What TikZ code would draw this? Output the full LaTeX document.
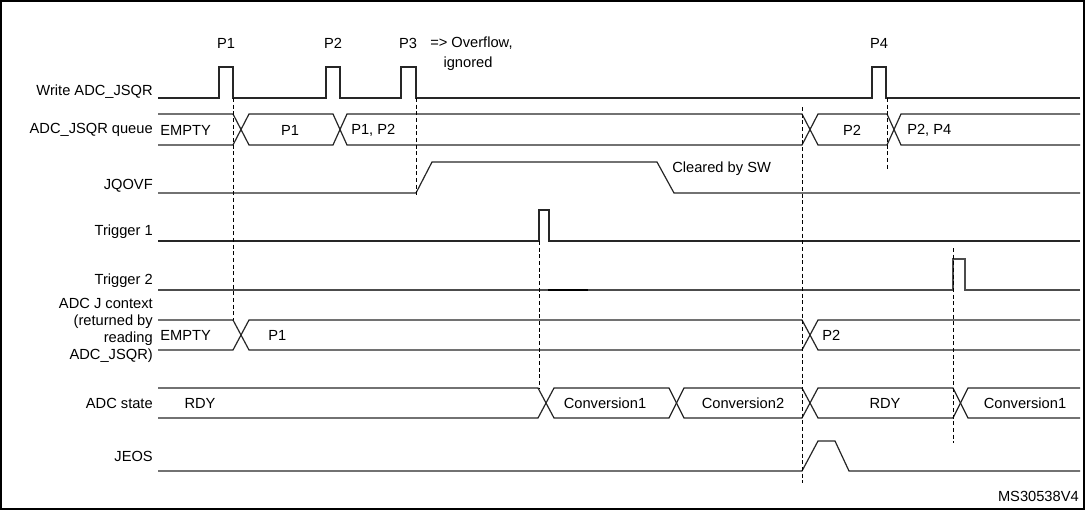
\documentclass[tikz,border=0pt]{standalone}
\usepackage{fontspec}
\setmainfont{Liberation Sans}
\begin{document}
\begin{tikzpicture}[x=0.75pt,y=-0.75pt,
  sig/.style={line width=0.9pt,black!85},
  dsh/.style={dashed,line width=0.6pt,dash pattern=on 3pt off 2pt},
  lab/.style={anchor=east,font=\fontsize{11}{12.75}\selectfont,inner sep=0pt},
  txt/.style={font=\fontsize{11}{12.75}\selectfont,inner sep=0pt}]
\draw[line width=0.8pt] (1,1) rectangle (1084,509);
\useasboundingbox (0,0) rectangle (1085,510);
% labels
\node[lab] (l1) at (153,92) {Write ADC\_JSQR};
\node[lab] (l2) at (153,130) {ADC\_JSQR queue};
\node[lab] (l3) at (153,186) {JQOVF};
\node[lab] (l4) at (153,232) {Trigger 1};
\node[lab] (l5) at (153,281) {Trigger 2};
\node[lab,align=right] (l6) at (153,330) {ADC J context\\(returned by\\reading\\ADC\_JSQR)};
\node[lab] (l7) at (153,403) {ADC state};
\node[lab] (l8) at (153,456) {JEOS};
% Write
\draw[sig] (158,98) -- (219,98) -- (219,67) -- (233,67) -- (233,98) -- (326,98) -- (326,67) -- (340,67) -- (340,98)
 -- (401,98) -- (401,67) -- (416,67) -- (416,98) -- (872,98) -- (872,67) -- (886,67) -- (886,98) -- (1080,98);
\node[txt] (p1) at (226,43) {P1};
\node[txt] (p2) at (333,43) {P2};
\node[txt] (p3) at (408,43) {P3};
\node[txt,anchor=west] (ov) at (430,43) {=> Overflow,};
\node[txt] (ig) at (468,64) {ignored};
\node[txt] (p4) at (879,43) {P4};
% queue
\draw[sig] (158,114) -- (233,114) -- (249,145) -- (333,145) -- (347,114) -- (802,114) -- (818,145) -- (887,145) -- (901,114) -- (1080,114);
\draw[sig] (158,145) -- (233,145) -- (249,114) -- (333,114) -- (347,145) -- (802,145) -- (818,114) -- (887,114) -- (901,145) -- (1080,145);
\node[txt,anchor=west] (q0) at (160,130) {EMPTY};
\node[txt] (q1) at (290,130) {P1};
\node[txt,anchor=west] (q2) at (351,130) {P1, P2};
\node[txt] (q3) at (852,130) {P2};
\node[txt,anchor=west] (q4) at (907,130) {P2, P4};
% JQOVF
\draw[sig] (158,193) -- (416,193) -- (432,162) -- (657,162) -- (674,193) -- (1080,193);
\node[txt,anchor=west] (clr) at (672,169) {Cleared by SW};
% triggers
\draw[sig] (158,241) -- (539,241) -- (539,210) -- (549,210) -- (549,241) -- (1080,241);
\draw[sig,black!70] (158,290) -- (953,290) -- (953,259) -- (965,259) -- (965,290) -- (1080,290);
\draw[line width=1.4pt] (548,290) -- (588,290);
% J context
\draw[sig] (158,320) -- (233,320) -- (249,350) -- (802,350) -- (818,320) -- (1080,320);
\draw[sig] (158,350) -- (233,350) -- (249,320) -- (802,320) -- (818,350) -- (1080,350);
\node[txt,anchor=west] (j0) at (160,335) {EMPTY};
\node[txt,anchor=west] (j1) at (268,335) {P1};
\node[txt,anchor=west] (j2) at (822,335) {P2};
% ADC state
\draw[sig] (158,388) -- (538,388) -- (554,418) -- (669,418) -- (684,388) -- (802,388) -- (818,418) -- (953,418) -- (968,388) -- (1080,388);
\draw[sig] (158,418) -- (538,418) -- (554,388) -- (669,388) -- (684,418) -- (802,418) -- (818,388) -- (953,388) -- (968,418) -- (1080,418);
\node[txt] (s0) at (200,403) {RDY};
\node[txt] (s1) at (605,403) {Conversion1};
\node[txt] (s2) at (743,403) {Conversion2};
\node[txt] (s3) at (885,403) {RDY};
\node[txt] (s4) at (1025,403) {Conversion1};
% JEOS
\draw[sig] (158,471) -- (802,471) -- (818,441) -- (835,441) -- (849,471) -- (1080,471);
% dashed
\draw[dsh] (233,98) -- (233,320);
\draw[dsh] (416,98) -- (416,196);
\draw[dsh] (539,241) -- (539,388);
\draw[dsh] (802,107) -- (802,483);
\draw[dsh] (887,98) -- (887,170);
\draw[dsh] (953,248) -- (953,443);
\node[txt,anchor=east] (ms) at (1079,496) {MS30538V4};
\end{tikzpicture}
\end{document}
